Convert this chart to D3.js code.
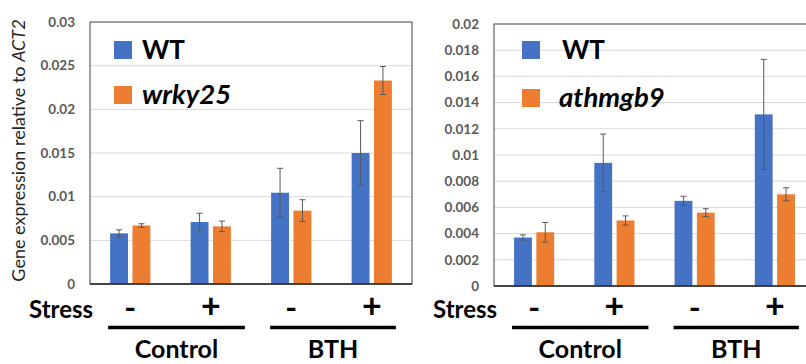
<!DOCTYPE html>
<html>
<head>
<meta charset="utf-8">
<script src="https://cdn.jsdelivr.net/npm/d3@7"></script>
<style>
  body { margin: 0; background: #fff; }
  svg { display: block; font-family: Lato, "Open Sans", sans-serif; }
</style>
</head>
<body>
<svg id="chart" width="806" height="364"></svg>
<script>
// categories
var stressLabels = ["-", "+", "-", "+"];
var treatments = ["Control", "BTH"];
var seriesColors = ["#4472C4", "#ED7D31"];

// left panel: WT vs wrky25
var wrkySeries = ["WT", "wrky25"];
var wrkyWT = [0.0058, 0.0071, 0.01045, 0.0150];
var wrkyWTErr = [0.0004, 0.0010, 0.0028, 0.0037];
var wrkyMut = [0.0067, 0.0066, 0.0084, 0.0233];
var wrkyMutErr = [0.0002, 0.0006, 0.00125, 0.0016];
var wrkyTicks = [0, 0.005, 0.01, 0.015, 0.02, 0.025, 0.03];
var wrkyTickLabels = ["0", "0.005", "0.01", "0.015", "0.02", "0.025", "0.03"];

// right panel: WT vs athmgb9
var hmgbSeries = ["WT", "athmgb9"];
var hmgbWT = [0.0037, 0.0094, 0.0065, 0.0131];
var hmgbWTErr = [0.0002, 0.0022, 0.00035, 0.0042];
var hmgbMut = [0.0041, 0.0050, 0.0056, 0.0070];
var hmgbMutErr = [0.00075, 0.00035, 0.0003, 0.0005];
var hmgbTicks = [0, 0.002, 0.004, 0.006, 0.008, 0.01, 0.012, 0.014, 0.016, 0.018, 0.02];
var hmgbTickLabels = ["0", "0.002", "0.004", "0.006", "0.008", "0.01", "0.012", "0.014", "0.016", "0.018", "0.02"];

var svg = d3.select("#chart");

function drawPanel(opts)
{
    var g = svg.append("g");
    var x = d3.scaleBand()
        .domain(d3.range(stressLabels.length))
        .range([opts.left, opts.right])
        .paddingInner(0.5)
        .paddingOuter(0.25);
    var xs = d3.scaleBand()
        .domain([0, 1])
        .range([0, x.bandwidth()])
        .paddingInner(0.2);
    var y = d3.scaleLinear()
        .domain([0, opts.ticks[opts.ticks.length - 1]])
        .range([opts.bottom, opts.top]);

    // gridlines
    g.append("g").selectAll("line")
        .data(opts.ticks.slice(1, -1))
        .enter().append("line")
        .attr("x1", opts.left).attr("x2", opts.right)
        .attr("y1", function(d) { return y(d); })
        .attr("y2", function(d) { return y(d); })
        .style("stroke", "#d9d9d9");

    // frame
    g.append("rect")
        .attr("x", opts.left).attr("y", opts.top)
        .attr("width", opts.right - opts.left)
        .attr("height", opts.bottom - opts.top)
        .style("fill", "none")
        .style("stroke", "#404040");

    // tick labels
    g.append("g").selectAll("text")
        .data(opts.ticks)
        .enter().append("text")
        .attr("x", opts.left - 15)
        .attr("y", function(d) { return y(d); })
        .attr("dy", "0.35em")
        .attr("text-anchor", "end")
        .style("font-size", "13.5px")
        .style("font-weight", "bold")
        .style("fill", "#595959")
        .text(function(d, i) { return opts.tickLabels[i]; });

    // bars + error bars
    var rows = [];
    [opts.wt, opts.mut].forEach(function(vals, s)
    {
        var errs = s == 0 ? opts.wtErr : opts.mutErr;
        vals.forEach(function(v, i) { rows.push({ cat: i, s: s, v: v, e: errs[i] }); });
    });

    g.append("g").selectAll("rect")
        .data(rows)
        .enter().append("rect")
        .attr("x", function(d) { return x(d.cat) + xs(d.s); })
        .attr("y", function(d) { return y(d.v); })
        .attr("width", xs.bandwidth())
        .attr("height", function(d) { return y(0) - y(d.v); })
        .style("fill", function(d) { return seriesColors[d.s]; });

    var err = g.append("g").selectAll("g")
        .data(rows)
        .enter().append("g")
        .attr("transform", function(d) { return "translate(" + (x(d.cat) + xs(d.s) + xs.bandwidth() / 2) + ",0)"; })
        .style("stroke", "#595959")
        .style("stroke-width", 1);
    err.append("line")
        .attr("y1", function(d) { return y(d.v + d.e); })
        .attr("y2", function(d) { return y(d.v - d.e); });
    err.append("line").attr("x1", -3).attr("x2", 3)
        .attr("y1", function(d) { return y(d.v + d.e); })
        .attr("y2", function(d) { return y(d.v + d.e); });
    err.append("line").attr("x1", -3).attr("x2", 3)
        .attr("y1", function(d) { return y(d.v - d.e); })
        .attr("y2", function(d) { return y(d.v - d.e); });

    // baseline
    g.append("line")
        .attr("x1", opts.left).attr("x2", opts.right)
        .attr("y1", y(0)).attr("y2", y(0))
        .style("stroke", "#262626")
        .style("stroke-width", 1.5);

    // legend
    var leg = g.append("g").selectAll("g")
        .data(opts.series)
        .enter().append("g")
        .attr("transform", function(d, i) { return "translate(" + opts.legX + "," + opts.legY[i] + ")"; });
    leg.append("rect")
        .attr("x", 0).attr("y", -9)
        .attr("width", 18).attr("height", 18)
        .style("fill", function(d, i) { return seriesColors[i]; });
    leg.append("text")
        .attr("x", function(d, i) { return opts.legTextX[i]; })
        .attr("y", 9)
        .style("font-size", function(d, i) { return i == 1 ? "27.5px" : "26px"; })
        .style("font-weight", "bold")
        .style("font-style", function(d, i) { return i == 1 ? "italic" : "normal"; })
        .style("fill", "#000")
        .text(function(d) { return d; });

    // stress row
    g.append("g").selectAll("text")
        .data(stressLabels)
        .enter().append("text")
        .attr("x", function(d, i) { return x(i) + x.bandwidth() / 2; })
        .attr("y", function(d) { return d == "+" ? 318 : 319; })
        .attr("text-anchor", "middle")
        .style("font-size", function(d) { return d == "+" ? "34px" : "32px"; })
        .style("font-weight", "bold")
        .text(function(d) { return d; });
    g.append("text")
        .attr("x", opts.stressX)
        .attr("y", 318)
        .style("font-size", "24px")
        .style("font-weight", "bold")
        .text("Stress");

    // treatment underlines + labels
    treatments.forEach(function(t, k)
    {
        var a = x(k * 2) - 2 + k,
            b = x(k * 2 + 1) + x.bandwidth() + (k == 0 ? 14 : 4);
        g.append("line")
            .attr("x1", a).attr("x2", b)
            .attr("y1", 327.5).attr("y2", 327.5)
            .style("stroke", "#000")
            .style("stroke-width", 3.5);
        g.append("text")
            .attr("x", (a + b) / 2)
            .attr("y", 358)
            .attr("text-anchor", "middle")
            .style("font-size", "25px")
            .style("font-weight", "bold")
            .text(t);
    });
}

drawPanel({
    left: 90, right: 412, top: 22, bottom: 284,
    ticks: wrkyTicks, tickLabels: wrkyTickLabels,
    wt: wrkyWT, wtErr: wrkyWTErr, mut: wrkyMut, mutErr: wrkyMutErr,
    series: wrkySeries, legX: 114, legY: [50, 95], legTextX: [28, 28],
    stressX: 29
});

drawPanel({
    left: 494, right: 815, top: 24, bottom: 286,
    ticks: hmgbTicks, tickLabels: hmgbTickLabels,
    wt: hmgbWT, wtErr: hmgbWTErr, mut: hmgbMut, mutErr: hmgbMutErr,
    series: hmgbSeries, legX: 522, legY: [50, 98], legTextX: [40, 37],
    stressX: 433
});

// y axis title
svg.append("text")
    .attr("transform", "translate(25,150.5) rotate(-90)")
    .attr("text-anchor", "middle")
    .style("font-size", "18px")
    .style("fill", "#262626")
    .text("Gene expression relative to ")
    .append("tspan")
    .style("font-style", "italic")
    .text("ACT2");
</script>
</body>
</html>
